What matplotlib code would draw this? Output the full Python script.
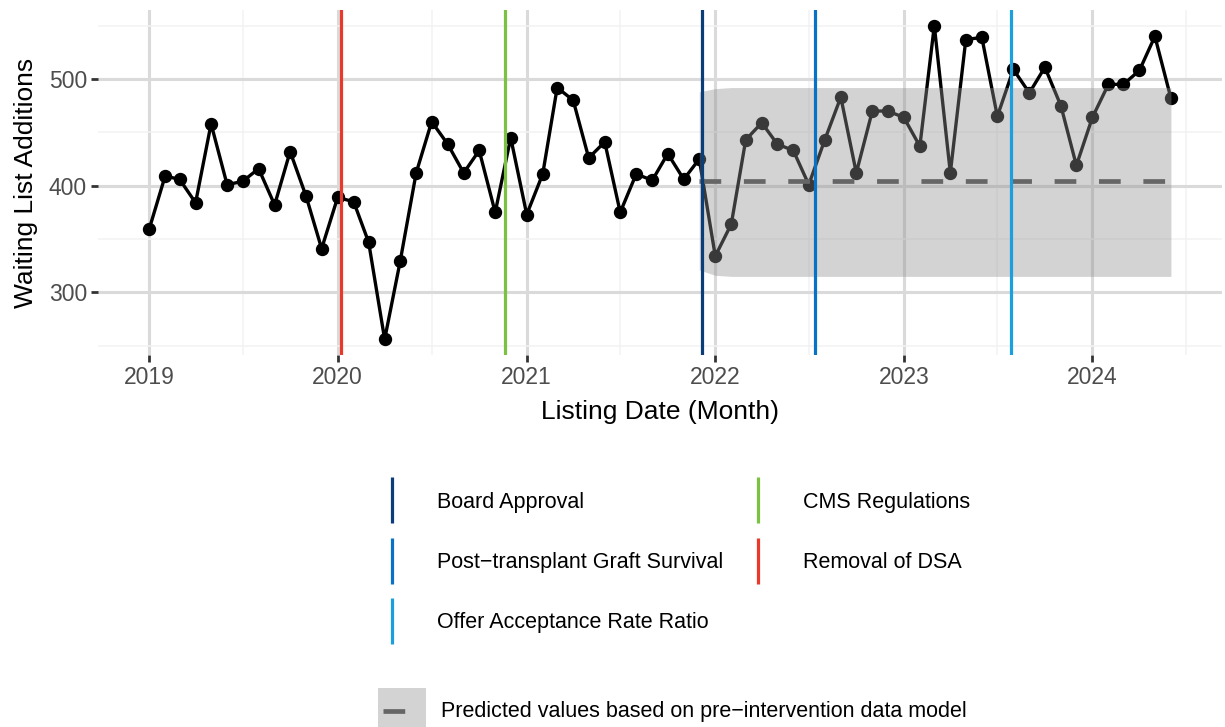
import matplotlib

matplotlib.use("Agg")
import matplotlib.dates as mdates
import matplotlib.pyplot as plt
import pandas as pd
from matplotlib.lines import Line2D
from matplotlib.patches import Rectangle
from matplotlib.ticker import MultipleLocator

plt.rcParams["font.family"] = ["Liberation Sans", "DejaVu Sans"]

# monthly waiting list additions, Jan 2019 - Jun 2024
months = pd.date_range("2019-01-01", "2024-06-01", freq="MS")
additions = [
    359, 409, 406, 384, 458, 401, 404, 416, 382, 432, 390, 341,
    389, 385, 347, 256, 329, 412, 460, 439, 412, 433, 375, 445,
    373, 411, 492, 480, 426, 441, 375, 411, 405, 430, 406, 425,
    334, 364, 443, 459, 439, 433, 401, 443, 483, 412, 470, 470,
    464, 437, 550, 412, 537, 539, 465, 509, 487, 511, 475, 419,
    464, 495, 495, 508, 540, 482,
]

# counterfactual prediction, Dec 2021 - Jun 2024
pred_start = "2021-12-01"
pred_mean = [
    404, 404, 404, 404, 404, 404, 404, 404, 404, 404, 404,
    404, 404, 404, 404, 404, 404, 404, 404, 404, 404, 404,
    404, 404, 404, 404, 404, 404, 404, 404, 404,
]
pred_upper = [
    488, 491, 492, 492, 492, 492, 492, 492, 492, 492, 492,
    492, 492, 492, 492, 492, 492, 492, 492, 492, 492, 492,
    492, 492, 492, 492, 492, 492, 492, 492, 492,
]
pred_lower = [
    321, 316, 315, 315, 315, 315, 315, 315, 315, 315, 315,
    315, 315, 315, 315, 315, 315, 315, 315, 315, 315, 315,
    315, 315, 315, 315, 315, 315, 315, 315, 315,
]

# policy events
event_names = [
    "Board Approval",
    "Post\u2212transplant Graft Survival",
    "Offer Acceptance Rate Ratio",
    "CMS Regulations",
    "Removal of DSA",
]
event_dates = ["2021-12-06", "2022-07-14", "2023-07-27", "2020-11-19", "2020-01-08"]
event_colors = ["#0c3d78", "#0a72c4", "#1c9fdc", "#7cc242", "#e8392b"]

BAND_COLOR, BAND_ALPHA = "#919191", 0.4
PRED_COLOR, PRED_LW, PRED_DASH = "#666666", 3.4, (0, (4.6, 4.8))


class BandKey:
    """Legend key: grey box with the dashed prediction line across the middle."""

    def legend_artist(self, legend, orig_handle, fontsize, handlebox):
        x0, y0 = handlebox.xdescent, handlebox.ydescent
        w, h = handlebox.width, handlebox.height
        tr = handlebox.get_transform()
        box = Rectangle((-x0, -y0), w, h, facecolor=BAND_COLOR, alpha=BAND_ALPHA,
                        linewidth=0, transform=tr)
        line = Line2D([-x0 + 0.1 * w, -x0 + 0.9 * w], [-y0 + h / 2] * 2,
                      color=PRED_COLOR, linewidth=PRED_LW, linestyle=PRED_DASH,
                      transform=tr)
        handlebox.add_artist(box)
        handlebox.add_artist(line)
        return box


W, H = 1225, 727
fig = plt.figure(figsize=(W / 100, H / 100), dpi=100)
ax = fig.add_axes([98 / W, 1 - 355 / H, (1222 - 98) / W, (355 - 10) / H])

pred_months = pd.date_range(pred_start, periods=len(pred_mean), freq="MS")

ax.plot(months, additions, color="black", linewidth=2.4, zorder=3)
ax.plot(months, additions, "o", color="black", markersize=8.6, zorder=3)
ax.fill_between(pred_months, pred_lower, pred_upper, color=BAND_COLOR,
                alpha=BAND_ALPHA, linewidth=0, zorder=4)
ax.plot(pred_months, pred_mean, color=PRED_COLOR, linewidth=PRED_LW,
        linestyle=PRED_DASH, zorder=5)

for d, c in zip(event_dates, event_colors):
    ax.axvline(pd.Timestamp(d), color=c, linewidth=2.3, zorder=6)

ax.margins(x=0.05, y=0.05)
ax.xaxis.set_major_locator(mdates.YearLocator())
ax.xaxis.set_minor_locator(mdates.MonthLocator(bymonth=7))
ax.xaxis.set_major_formatter(mdates.DateFormatter("%Y"))
ax.yaxis.set_major_locator(MultipleLocator(100))
ax.yaxis.set_minor_locator(MultipleLocator(50))

ax.grid(True, which="major", color="#dadada", linewidth=2.2, zorder=0)
ax.grid(True, which="minor", color="#f2f2f2", linewidth=1.1, zorder=0)
ax.set_axisbelow(True)
for s in ax.spines.values():
    s.set_visible(False)
ax.tick_params(which="major", length=5, width=2, color="#333333",
               labelsize=16.5, labelcolor="#4d4d4d", pad=3)
ax.tick_params(which="minor", length=0)

ax.set_xlabel("Listing Date (Month)", fontsize=19, labelpad=8)
ax.set_ylabel("Waiting List Additions", fontsize=19, labelpad=8)

# legend for intervention lines
fs = 15.5
handles = [Line2D([], [], color=c, marker="|", linestyle="none",
                  markersize=33, markeredgewidth=2.3) for c in event_colors]
fig.legend(handles, event_names, loc="upper left",
           bbox_to_anchor=(381 / W, 1 - 492 / H), ncol=2, frameon=False,
           fontsize=fs, borderpad=0, borderaxespad=0, handlelength=1.0,
           handletextpad=1.6, columnspacing=1.1, labelspacing=1.82)

# legend for the prediction ribbon
band_key = Rectangle((0, 0), 1, 1)
fig.legend([band_key], ["Predicted values based on pre\u2212intervention data model"],
           handler_map={band_key: BandKey()},
           loc="upper left", bbox_to_anchor=(378 / W, 1 - 688 / H),
           frameon=False, fontsize=fs, borderpad=0, borderaxespad=0,
           handlelength=2.23, handleheight=2.92, handletextpad=0.7)

fig.savefig("out.png", dpi=100)
